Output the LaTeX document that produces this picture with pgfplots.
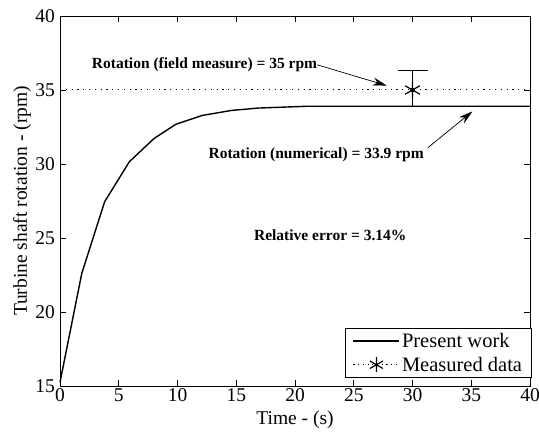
\documentclass[border=0pt]{standalone}
\usepackage{fontspec}
\setmainfont{Liberation Serif}
\usepackage{pgfplots}
\pgfplotsset{compat=1.18}
\usetikzlibrary{arrows.meta}

\begin{document}
\begin{tikzpicture}
\begin{axis}[
  name=ax,
  scale only axis,
  width=470pt, height=370pt,
  xmin=0, xmax=40, ymin=15, ymax=40,
  xtick={0,5,...,40}, ytick={15,20,...,40},
  tick align=inside,
  major tick length=6pt,
  axis line style={line width=0.8pt},
  tick style={line width=0.6pt, black},
  /pgf/number format/assume math mode=true,
  tick label style={font=\fontsize{19.5}{21}\selectfont, inner sep=0pt},
  xticklabel style={anchor=north, yshift=-2.5pt},
  yticklabel style={anchor=east, xshift=-5pt},
  label style={font=\fontsize{19.5}{21}\selectfont},
  xlabel={Time - (s)},
  ylabel={Turbine shaft rotation - (rpm)},
  xlabel style={at={(axis description cs:0.5,0)}, anchor=center, yshift=-34pt},
  ylabel style={at={(axis description cs:0,0.5)}, anchor=center, yshift=38pt},
  legend style={
    at={(1,0)}, anchor=south east, xshift=1.5pt, yshift=8pt,
    draw=black, line width=0.8pt,
    font=\fontsize{20.5}{22}\selectfont,
    inner xsep=7pt, inner ysep=3pt, row sep=4pt,
  },
  legend cell align=left,
  clip=false,
]
% numerical solution
\addplot[black, line width=1.4pt,
  legend image code/.code={\draw[black, line width=1.2pt] (0pt,0pt) -- (46pt,0pt);}]
  coordinates {
  (0,15.25) (1.85,22.6) (3.8,27.45) (5.9,30.15) (8,31.72)
  (9.85,32.68) (12.1,33.28) (14.6,33.62) (16.9,33.78)
  (21,33.9) (25,33.9) (30,33.9) (35,33.9) (40,33.9)
};
\addlegendentry{Present work}
% field measurement level
\addplot[black, line width=1pt, dash pattern=on 1.2pt off 4.6pt,
  mark=asterisk, mark indices={2},
  mark size=8.5pt, mark options={solid, line width=1.2pt},
  legend image code/.code={
    \draw[black, line width=1pt, dash pattern=on 1.2pt off 3.5pt, mark=none]
      (0pt,0pt) -- (46pt,0pt);
    \draw[black, line width=1.2pt, solid]
      plot[only marks, mark=asterisk, mark size=7.5pt, mark indices={2}]
      coordinates {(0pt,0pt) (23pt,0pt) (46pt,0pt)};}]
  coordinates {
  (0,35) (30,35) (40,35)
};
\addlegendentry{Measured data}
% error bar of the measurement
\addplot[black, only marks, mark=none, forget plot,
  error bars/.cd, y dir=both, y explicit,
  error bar style={line width=1.2pt, solid},
  error mark options={rotate=90, mark size=15pt, line width=1.2pt}] coordinates {
  (30,35) += (0,1.3) -= (0,1.1)
};

\node[font=\bfseries\fontsize{15.5}{17}\selectfont] at (axis cs:12.3,36.7)
  {Rotation (field measure) = 35 rpm};
\draw[-{Stealth[length=14pt,width=8pt]}, line width=0.7pt]
  (axis cs:21.9,36.7) -- (axis cs:27.8,35.3);
\node[font=\bfseries\fontsize{15.5}{17}\selectfont] at (axis cs:21.8,30.6)
  {Rotation (numerical) = 33.9 rpm};
\draw[-{Stealth[length=14pt,width=8pt]}, line width=0.7pt]
  (axis cs:31.3,31.1) -- (axis cs:35.1,33.55);
\node[font=\bfseries\fontsize{15.5}{17}\selectfont] at (axis cs:23,25.2)
  {Relative error = 3.14\%};
\end{axis}
\pgfresetboundingbox
\path[use as bounding box] ([xshift=-60pt,yshift=-46pt]ax.south west)
  rectangle ([xshift=9pt,yshift=16pt]ax.north east);
\end{tikzpicture}
\end{document}
